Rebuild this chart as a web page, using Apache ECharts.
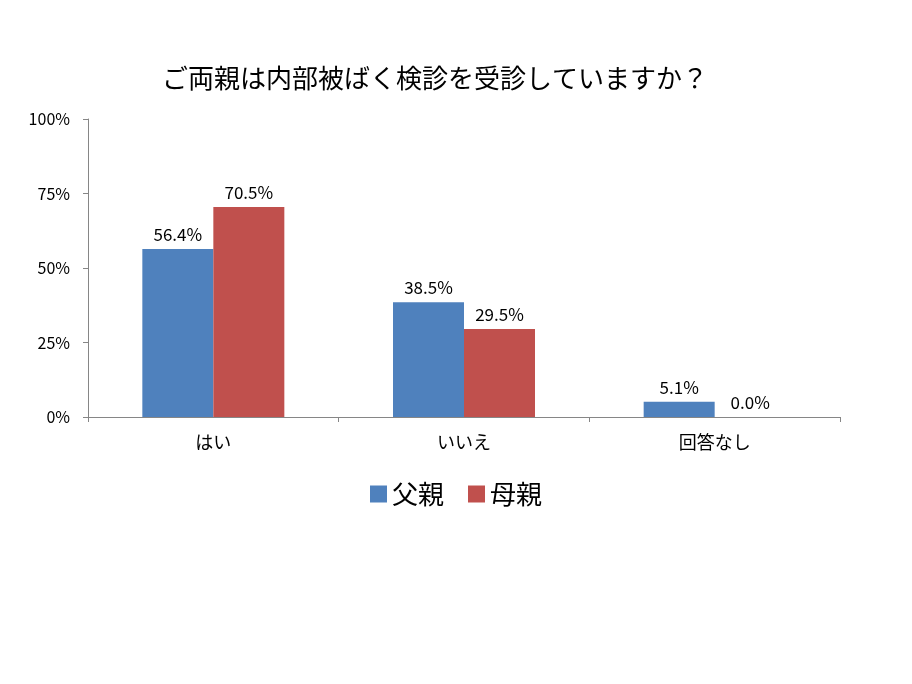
<!DOCTYPE html>
<html><head><meta charset="utf-8">
<script src="https://cdn.jsdelivr.net/npm/echarts@6/dist/echarts.min.js"></script>
<style>html,body{margin:0;background:#fff}#c{width:912px;height:684px}</style>
</head><body><div id="c"></div>
<script>
const categories = ['はい', 'いいえ', '回答なし']
const father = [56.4, 38.5, 5.1]
const mother = [70.5, 29.5, 0.0]
const yTicks = [0, 25, 50, 75, 100]

const font = 'Noto Sans CJK JP'
const label = {
  show: true, position: 'top', distance: 6,
  formatter: p => p.value.toFixed(1) + '%',
  color: '#000', fontSize: 17, fontFamily: font
}

const chart = echarts.init(document.getElementById('c'))
chart.setOption({
  animation: false,
  title: {
    text: 'ご両親は内部被ばく検診を受診していますか？',
    left: 430, top: 60, textAlign: 'center',
    textStyle: { fontSize: 26, fontWeight: 'normal', fontFamily: font, color: '#000' }
  },
  legend: {
    data: ['父親', '母親'], top: 476, left: 'center', itemGap: 24,
    itemWidth: 17, itemHeight: 17, icon: 'rect',
    textStyle: { fontSize: 26, fontFamily: font, color: '#000' }
  },
  grid: { left: 88, right: 72, top: 119, bottom: 267 },
  xAxis: {
    type: 'category', data: categories,
    axisLine: { lineStyle: { color: '#868686' } },
    axisTick: { show: true, length: 5, lineStyle: { color: '#868686' } },
    axisLabel: { fontSize: 18, fontFamily: font, color: '#000', margin: 16 }
  },
  yAxis: {
    type: 'value', min: 0, max: 100, interval: 25,
    axisLine: { show: true, lineStyle: { color: '#868686' } },
    axisTick: { show: true, length: 5, lineStyle: { color: '#868686' } },
    splitLine: { show: false },
    axisLabel: {
      fontSize: 16, fontFamily: font, color: '#000', margin: 18,
      formatter: v => yTicks.includes(v) ? v + '%' : ''
    }
  },
  series: [
    { name: '父親', type: 'bar', data: father, barWidth: 71, barGap: '0%',
      itemStyle: { color: '#4F81BD' }, label },
    { name: '母親', type: 'bar', data: mother, barWidth: 71,
      itemStyle: { color: '#C0504D' }, label }
  ]
})
</script></body></html>
